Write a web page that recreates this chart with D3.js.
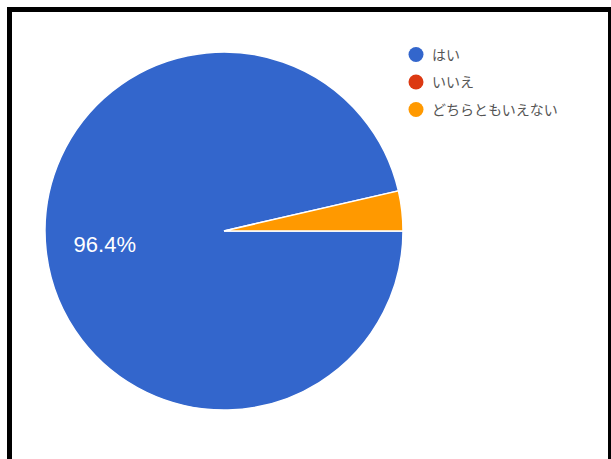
<!DOCTYPE html>
<html>
<head>
<meta charset="utf-8">
<script src="https://cdn.jsdelivr.net/npm/d3@7"></script>
<style>
  html, body { margin: 0; padding: 0; background: #fff; }
  svg { display: block; font-family: Arial, "Liberation Sans", "Noto Sans CJK JP", sans-serif; }
</style>
</head>
<body>
<div id="chart"></div>
<script>
const categories = ["はい", "いいえ", "どちらともいえない"];
const values = [96.4, 0, 3.6];
const colors = ["#3366cc", "#dc3912", "#ff9900"];

const width = 611, height = 459;
const cx = 224, cy = 231, radius = 179;

const svg = d3.select("#chart").append("svg")
  .attr("width", width)
  .attr("height", height);

svg.append("rect")
  .attr("width", width)
  .attr("height", height)
  .attr("fill", "#fff");

// frame around the chart (right side and bottom run off the picture)
svg.append("rect")
  .attr("x", 9.5)
  .attr("y", 9.5)
  .attr("width", 601)
  .attr("height", 460)
  .attr("fill", "none")
  .attr("stroke", "#000")
  .attr("stroke-width", 5);

const data = categories.map((c, i) => ({ name: c, value: values[i], color: colors[i] }));

const pie = d3.pie()
  .sort(null)
  .value((d) => d.value)
  .startAngle(Math.PI / 2)
  .endAngle(Math.PI / 2 + 2 * Math.PI);

const arcs = pie(data);
const total = d3.sum(values);

const arc = d3.arc().innerRadius(0).outerRadius(radius);
const labelArc = d3.arc().innerRadius(120).outerRadius(120);

const chart = svg.append("g").attr("transform", `translate(${cx},${cy})`);

chart.selectAll("path.slice")
  .data(arcs.filter((d) => d.value > 0))
  .enter()
  .append("path")
  .attr("class", "slice")
  .attr("d", arc)
  .attr("fill", (d) => d.data.color)
  .attr("stroke", "#fff")
  .attr("stroke-width", 1.5);

chart.selectAll("text.pct")
  .data(arcs.filter((d) => d.value / total > 0.05))
  .enter()
  .append("text")
  .attr("class", "pct")
  .attr("transform", (d) => `translate(${labelArc.centroid(d)})`)
  .attr("text-anchor", "middle")
  .attr("dy", "0.35em")
  .attr("fill", "#fff")
  .attr("font-size", "22px")
  .text((d) => `${((d.value / total) * 100).toFixed(1)}%`);

const legendY = d3.scalePoint()
  .domain(categories)
  .range([54.5, 109.5]);

const legend = svg.append("g");

const items = legend.selectAll("g.item")
  .data(data)
  .enter()
  .append("g")
  .attr("class", "item")
  .attr("transform", (d) => `translate(416,${legendY(d.name)})`);

items.append("circle")
  .attr("r", 7.5)
  .attr("fill", (d) => d.color);

items.append("text")
  .attr("x", 16)
  .attr("dy", "0.36em")
  .attr("fill", "#555")
  .attr("font-size", "14px")
  .text((d) => d.name);
</script>
</body>
</html>
